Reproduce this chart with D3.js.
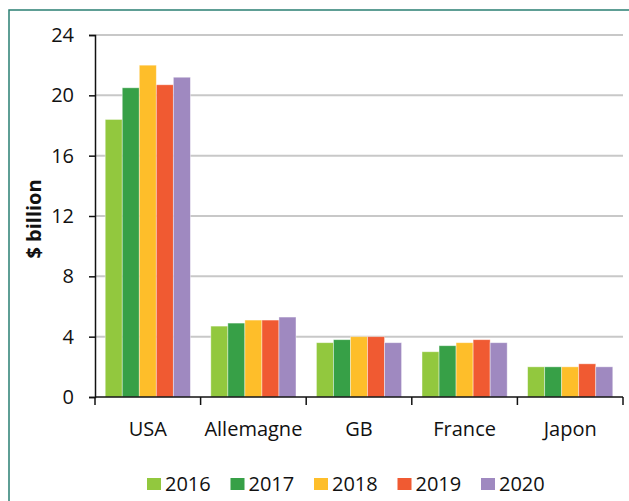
<!DOCTYPE html>
<html>
<head>
<meta charset="utf-8">
<script src="https://cdn.jsdelivr.net/npm/d3@7"></script>
<style>
  html, body { margin: 0; padding: 0; background: #fff; }
  svg { display: block; }
  text { font-family: "Open Sans", sans-serif; fill: #111; }
</style>
</head>
<body>
<svg id="chart" width="629" height="501"></svg>
<script>
// chart values
var countries = ["USA", "Allemagne", "GB", "France", "Japon"],
    years = ["2016", "2017", "2018", "2019", "2020"],
    v2016 = [18.4, 4.7, 3.6, 3.0, 2.0],
    v2017 = [20.5, 4.9, 3.8, 3.4, 2.0],
    v2018 = [22.0, 5.1, 4.0, 3.6, 2.0],
    v2019 = [20.7, 5.1, 4.0, 3.8, 2.2],
    v2020 = [21.2, 5.3, 3.6, 3.6, 2.0],
    yTicks = [0, 4, 8, 12, 16, 20, 24],
    colors = ["#92c83e", "#37a047", "#febe2a", "#f05a32", "#9f89c0"];

(function () {
    "use strict";
    var series = [v2016, v2017, v2018, v2019, v2020],
        svg = d3.select("#chart"),
        plotLeft = 95, plotRight = 623, plotTop = 35, plotBottom = 397;

    // teal frame
    svg.append("rect")
        .attr("x", 9).attr("y", 10)
        .attr("width", 640).attr("height", 520)
        .attr("fill", "none")
        .attr("stroke", "#2a7f73")
        .attr("stroke-width", 1.5);

    var x = d3.scaleBand().domain(countries).range([plotLeft, plotRight]),
        xi = d3.scaleBand().domain(years).range([0, x.bandwidth()]).paddingOuter(0.6).paddingInner(0),
        y = d3.scaleLinear().domain([0, 24]).range([plotBottom, plotTop]);

    // gridlines
    svg.append("g")
        .selectAll("line")
        .data(yTicks.filter(function (d) { return d > 0; }))
        .join("line")
        .attr("x1", plotLeft).attr("x2", plotRight)
        .attr("y1", function (d) { return y(d); })
        .attr("y2", function (d) { return y(d); })
        .attr("stroke", "#c8c8c8")
        .attr("stroke-width", 2);

    // bars
    var rows = [];
    countries.forEach(function (c, i) {
        years.forEach(function (yr, j) {
            rows.push({country: c, year: yr, value: series[j][i], k: j});
        });
    });

    svg.append("g")
        .selectAll("rect")
        .data(rows)
        .join("rect")
        .attr("x", function (d) { return x(d.country) + xi(d.year); })
        .attr("width", xi.bandwidth())
        .attr("y", function (d) { return y(d.value); })
        .attr("height", function (d) { return y(0) - y(d.value); })
        .attr("fill", function (d) { return colors[d.k]; })
        .attr("stroke", "#ffffff")
        .attr("stroke-opacity", 0.5)
        .attr("stroke-width", 0.8);

    // y axis
    var yAxis = svg.append("g")
        .attr("transform", "translate(" + plotLeft + ",0)")
        .call(d3.axisLeft(y).tickValues(yTicks).tickSize(6).tickPadding(15));
    yAxis.select(".domain").attr("stroke", "#111").attr("stroke-width", 1.5);
    yAxis.selectAll(".tick line").attr("stroke", "#111").attr("stroke-width", 1.5);
    yAxis.selectAll("text")
        .style("font-size", "20px")
        .style("font-family", "Open Sans, sans-serif")
        .attr("fill", "#111");

    // x axis: ticks sit between categories
    var xAxis = svg.append("g").attr("transform", "translate(0," + plotBottom + ")");
    xAxis.append("line")
        .attr("x1", plotLeft).attr("x2", plotRight)
        .attr("stroke", "#111").attr("stroke-width", 1.5);
    xAxis.selectAll(".sep")
        .data(countries.map(function (c) { return x(c); }).concat([plotRight]))
        .join("line")
        .attr("class", "sep")
        .attr("x1", function (d) { return d; })
        .attr("x2", function (d) { return d; })
        .attr("y1", 0).attr("y2", 8)
        .attr("stroke", "#111").attr("stroke-width", 1.5);
    xAxis.selectAll("text")
        .data(countries)
        .join("text")
        .attr("x", function (d) { return x(d) + x.bandwidth() / 2; })
        .attr("y", 39)
        .attr("text-anchor", "middle")
        .style("font-size", "20px")
        .text(function (d) { return d; });

    // y label
    svg.append("text")
        .attr("transform", "translate(41,219) rotate(-90)")
        .attr("text-anchor", "middle")
        .style("font-size", "20px")
        .style("font-weight", "bold")
        .text("$ billion");

    // legend
    var legend = svg.append("g")
        .selectAll("g")
        .data(years)
        .join("g")
        .attr("transform", function (d, i) { return "translate(" + (147 + i * 83.5) + ",478)"; });
    legend.append("rect")
        .attr("width", 14).attr("height", 12)
        .attr("fill", function (d, i) { return colors[i]; });
    legend.append("text")
        .attr("x", 18).attr("y", 12.5)
        .style("font-size", "20px")
        .text(function (d) { return d; });
}());
</script>
</body>
</html>
